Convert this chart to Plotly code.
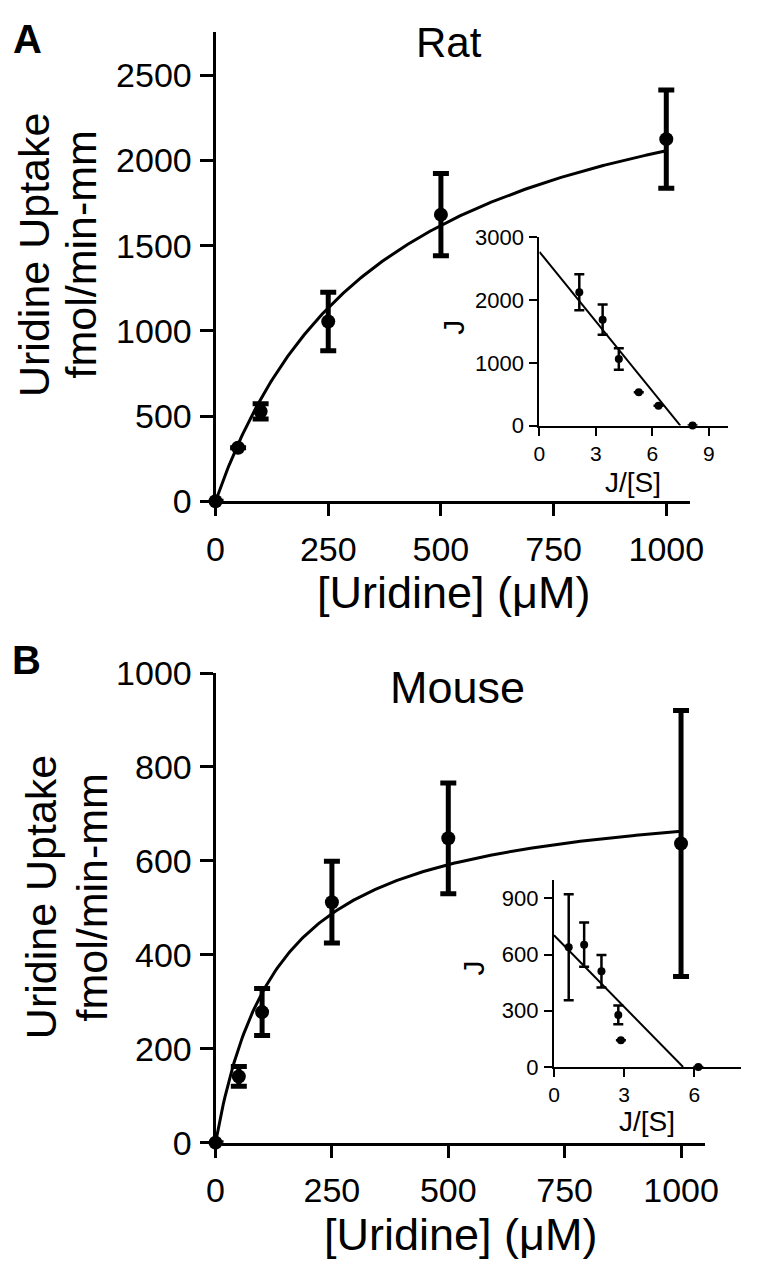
import numpy as np
import plotly.graph_objects as go

W, H = 759, 1281
FONT = "Liberation Sans, Arial, sans-serif"

# ---------------- data ----------------
uridine_um = [0, 50, 100, 250, 500, 1000]

rat_uptake = [0, 314, 527, 1055, 1682, 2125]
rat_err = [0, 0, 45, 172, 242, 288]

mouse_uptake = [0, 141, 278, 512, 648, 637]
mouse_err = [0, 21, 50, 87, 118, 283]

# Michaelis-Menten fit parameters (main panels)
rat_vmax, rat_km = 2820, 371
mouse_vmax, mouse_km = 753, 136

# Eadie-Hofstee insets: J vs J/[S]
rat_inset_js = [8.14, 6.33, 5.28, 4.22, 3.36, 2.12]
rat_inset_j = [0, 314, 530, 1060, 1688, 2125]
rat_inset_err = [0, 0, 0, 172, 242, 288]
rat_line_js = [0, 7.49]
rat_line_j = [2769, 0]

mouse_inset_js = [6.17, 2.86, 2.75, 2.03, 1.29, 0.63]
mouse_inset_j = [0, 143, 278, 511, 653, 639]
mouse_inset_err = [0, 0, 50, 87, 118, 283]
mouse_line_js = [0, 5.52]
mouse_line_j = [703, 0]

main_xticks = [0, 250, 500, 750, 1000]
rat_yticks = [0, 500, 1000, 1500, 2000, 2500]
mouse_yticks = [0, 200, 400, 600, 800, 1000]
rat_inset_xticks = [0, 3, 6, 9]
rat_inset_yticks = [0, 1000, 2000, 3000]
mouse_inset_xticks = [0, 3, 6]
mouse_inset_yticks = [0, 300, 600, 900]

# ---------------- helpers ----------------
def px_x(p):
    return p / W

def px_y(p):
    return 1 - p / H

fig = go.Figure()

s_grid = np.linspace(0, 1000, 301)

def main_traces(xa, ya, vals, errs, vmax, km):
    fig.add_trace(go.Scatter(x=s_grid, y=vmax * s_grid / (km + s_grid), mode="lines",
                             line=dict(color="black", width=3), xaxis=xa, yaxis=ya,
                             showlegend=False, cliponaxis=False))
    fig.add_trace(go.Scatter(x=uridine_um, y=vals, mode="markers",
                             marker=dict(color="black", size=14),
                             error_y=dict(type="data", array=errs, color="black",
                                          thickness=5, width=8),
                             xaxis=xa, yaxis=ya, showlegend=False, cliponaxis=False))

def inset_traces(xa, ya, xs, ys, errs, lx, ly):
    fig.add_trace(go.Scatter(x=lx, y=ly, mode="lines",
                             line=dict(color="black", width=2), xaxis=xa, yaxis=ya,
                             showlegend=False, cliponaxis=False))
    fig.add_trace(go.Scatter(x=xs, y=ys, mode="markers",
                             marker=dict(color="black", size=8),
                             error_y=dict(type="data", array=errs, color="black",
                                          thickness=2.5, width=5),
                             xaxis=xa, yaxis=ya, showlegend=False, cliponaxis=False))

main_traces("x", "y", rat_uptake, rat_err, rat_vmax, rat_km)
inset_traces("x2", "y2", rat_inset_js, rat_inset_j, rat_inset_err, rat_line_js, rat_line_j)
main_traces("x3", "y3", mouse_uptake, mouse_err, mouse_vmax, mouse_km)
inset_traces("x4", "y4", mouse_inset_js, mouse_inset_j, mouse_inset_err, mouse_line_js, mouse_line_j)

def axis(domain, rng, ticks, anchor, lw, tl, fs, standoff):
    return dict(domain=domain, range=rng, tickvals=ticks, ticktext=[str(t) for t in ticks],
                anchor=anchor, showline=True, linecolor="black", linewidth=lw,
                ticks="outside", ticklen=tl, tickwidth=lw, tickcolor="black",
                showgrid=False, zeroline=False, fixedrange=True,
                tickfont=dict(family=FONT, size=fs, color="black"),
                ticklabelstandoff=standoff)

layout = dict(
    width=W, height=H, margin=dict(l=0, r=0, t=0, b=0),
    paper_bgcolor="white", plot_bgcolor="rgba(0,0,0,0)",
    font=dict(family=FONT, color="black"),
    showlegend=False,
    xaxis=axis([px_x(213), px_x(702)], [0, 1052], main_xticks, "y", 3, 12, 34, 4),
    yaxis=axis([px_y(497), px_y(13)], [0, 2756], rat_yticks, "x", 3, 13, 34, 1),
    xaxis2=axis([px_x(547), px_x(741)], [0, 10], rat_inset_xticks, "y2", 2, 8, 21, 0),
    yaxis2=axis([px_y(419), px_y(225)], [0, 3000], rat_inset_yticks, "x2", 2, 8, 22, 1),
    xaxis3=axis([px_x(213), px_x(718)], [0, 1052], main_xticks, "y3", 3, 12, 34, 4),
    yaxis3=axis([px_y(1158), px_y(674)], [0, 1000], mouse_yticks, "x3", 3, 13, 34, 1),
    xaxis4=axis([px_x(562), px_x(755)], [0, 8], mouse_inset_xticks, "y4", 2, 8, 21, 0),
    yaxis4=axis([px_y(1080), px_y(887)], [0, 1000], mouse_inset_yticks, "x4", 2, 8, 22, 1),
)

def ann(text, x, y, size, angle=0, bold=False):
    t = f"<b>{text}</b>" if bold else text
    return dict(text=t, x=px_x(x), y=px_y(y), xref="paper", yref="paper",
                xanchor="center", yanchor="middle", showarrow=False, textangle=angle,
                font=dict(family=FONT, size=size, color="black"))

layout["annotations"] = [
    ann("A", 19, 21, 40, bold=True),
    ann("B", 18, 661, 40, bold=True),
    ann("Rat", 454, 24, 42),
    ann("Mouse", 463, 689, 45),
    ann("Uridine Uptake", 26, 243, 43, angle=-90),
    ann("fmol/min-mm", 74, 243, 43, angle=-90),
    ann("Uridine Uptake", 33, 905, 43, angle=-90),
    ann("fmol/min-mm", 86, 905, 43, angle=-90),
    ann("[Uridine] (μM)", 458, 591, 45),
    ann("[Uridine] (μM)", 466, 1253, 45),
    ann("J/[S]", 643, 478, 28),
    ann("J", 458, 318, 30, angle=-90),
    ann("J/[S]", 658, 1136, 28),
    ann("J", 480, 978, 30, angle=-90),
]

fig.update_layout(**layout)
fig.write_html("out.html", config={"displayModeBar": False},
               post_script="document.body.style.margin='0';document.body.style.overflow='hidden';")
